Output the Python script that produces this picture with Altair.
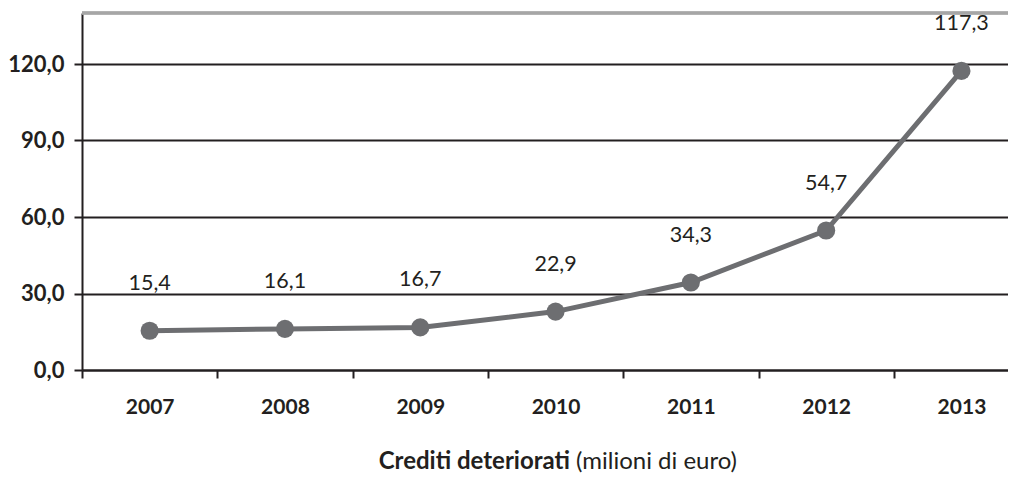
import altair as alt
import pandas as pd

years = ["2007", "2008", "2009", "2010", "2011", "2012", "2013"]
values = [15.4, 16.1, 16.7, 22.9, 34.3, 54.7, 117.3]
y_ticks = [0, 30, 60, 90, 120]
title_bold = "Crediti deteriorati"
title_regular = "(milioni di euro)"

df = pd.DataFrame({
    "idx": list(range(len(years))),
    "year": years,
    "value": values,
    "label": [f"{v:.1f}".replace(".", ",") for v in values],
})

FONT = "Lato"
DARK = "#231f20"
LINE = "#6d6e71"

PLOT_W = 926
STEP = 135.3
x_max = -0.5 + PLOT_W / STEP
boundaries = [i - 0.5 for i in range(len(years))]
year_list = ",".join(f"'{y}'" for y in years)

x_enc = alt.X(
    "idx:Q",
    scale=alt.Scale(domain=[-0.5, x_max], nice=False, zero=False),
    axis=alt.Axis(
        title=None, values=boundaries, domainColor=DARK, domainWidth=2,
        tickColor=DARK, tickWidth=2, tickSize=8, labelFont=FONT, labelFontSize=21,
        labelFontWeight="bold", labelColor=DARK, labelPadding=18, grid=False,
        labelAngle=0, labelOffset=STEP / 2, labelOverlap=False, labelFlush=False,
        labelBound=False,
        labelExpr=f"[{year_list}][round(datum.value + 0.5)]",
    ),
)
y_enc = alt.Y(
    "value:Q",
    scale=alt.Scale(domain=[0, 140], nice=False),
    axis=alt.Axis(
        title=None, values=y_ticks, domainColor=DARK, domainWidth=2,
        tickColor=DARK, tickWidth=2, tickSize=8, labelFont=FONT, labelFontSize=22,
        labelFontWeight="bold", labelColor=DARK, labelPadding=10,
        gridColor=DARK, gridWidth=2, grid=True,
        labelExpr="replace(format(datum.value, '.1f'), '.', ',')",
    ),
)

base = alt.Chart(df)

top_rule = base.mark_rule(color="#a6a6a6", strokeWidth=2.5).encode(
    y=alt.datum(140)
)
line = base.mark_line(color=LINE, strokeWidth=5).encode(x=x_enc, y=y_enc)
points = base.mark_circle(color=LINE, size=330, opacity=1).encode(x=x_enc, y=y_enc)
labels = base.mark_text(font=FONT, fontSize=21.5, color=DARK, dy=-47).encode(
    x=x_enc, y=y_enc, text="label:N"
)

t1 = alt.Chart(pd.DataFrame({"t": [title_bold]})).mark_text(
    font=FONT, fontSize=24, fontWeight="bold", color=DARK, align="right", baseline="middle"
).encode(x=alt.value(488), y=alt.value(449), text="t:N")
t2 = alt.Chart(pd.DataFrame({"t": [title_regular]})).mark_text(
    font=FONT, fontSize=24, color=DARK, align="left", baseline="middle"
).encode(x=alt.value(494), y=alt.value(449), text="t:N")

chart = alt.layer(top_rule, line, points, labels, t1, t2).properties(
    width=PLOT_W,
    height=357,
    autosize=alt.AutoSizeParams(type="none"),
    padding={"left": 74, "top": 5, "right": 0, "bottom": 103},
).configure_view(stroke=None).configure(background="white")

chart.save("out.html", embed_options={"renderer": "svg", "actions": False})
